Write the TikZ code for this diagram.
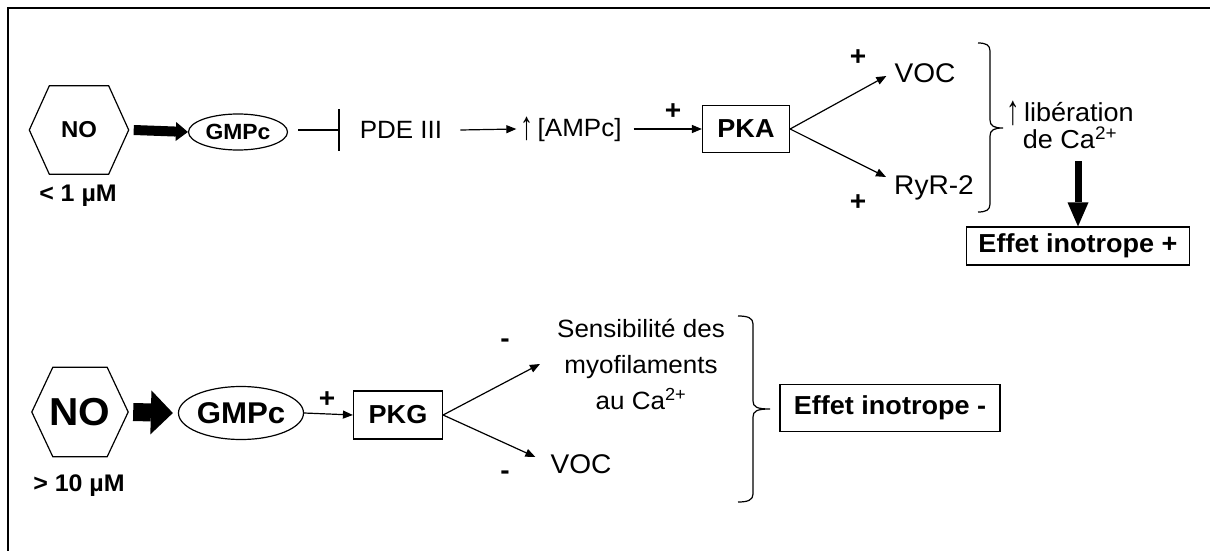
\documentclass[tikz,border=0pt]{standalone}
\usepackage{fontspec}
\setmainfont{Liberation Sans}[FakeStretch=1.04]
\usetikzlibrary{arrows.meta,shapes.geometric}
\newcommand\hexdraw[2]{\draw[line width=1.2pt] (#1.west) -- ([xshift=#2]#1.north west) -- ([xshift=-#2]#1.north east) -- (#1.east) -- ([xshift=-#2]#1.south east) -- ([xshift=#2]#1.south west) -- cycle;}
\newcommand\uparr{\raisebox{-0.12em}{\scalebox{1}[1.6]{↑}}}
\tikzset{
  txt/.style={inner sep=0pt, align=center, font=\fontsize{25}{28}\selectfont},
  txtb/.style={inner sep=0pt, align=center, font=\fontsize{27}{30}\selectfont},
  sign/.style={inner sep=0pt, font=\bfseries\fontsize{27}{30}\selectfont},
  lbl/.style={inner sep=0pt, font=\bfseries\fontsize{24}{28}\selectfont},
  boxn/.style={draw, line width=1.2pt, inner sep=0pt, font=\bfseries\fontsize{26}{30}\selectfont},
  ell/.style={draw, ellipse, line width=1.2pt, inner sep=0pt},
  hexn/.style={inner sep=0pt, font=\bfseries},
  arr/.style={line width=1.2pt, -{Triangle[length=10pt,width=8pt]}},
  inhib/.style={line width=1.2pt, -{Bar[width=42pt,line width=1.2pt]}},
  fatS/.style={line width=10pt, -{Triangle[length=12pt,width=19pt,line width=0pt]}},
  fatL/.style={line width=18pt, -{Triangle[length=22pt,width=44pt,line width=0pt]}},
  fatV/.style={line width=7pt, -{Triangle[length=24pt,width=21pt,line width=0pt]}},
  brace/.style={line width=1.2pt}
}
\begin{document}
\begin{tikzpicture}[x=1pt,y=-1pt]
\useasboundingbox (0,0) rectangle (1210,551);
\draw[line width=1.5pt] (8,551) -- (8,8) -- (1210,8);

% ---------- top row ----------
\node[hexn, minimum width=99pt, minimum height=88pt, font=\bfseries\fontsize{23}{26}\selectfont] (no1) at (79,130) {NO};
\hexdraw{no1}{20pt}
\node[lbl] (c1) at (78,196) {< 1 µM};
\node[ell, minimum width=99pt, minimum height=36pt, font=\bfseries\fontsize{22}{24}\selectfont] (gmp1) at (238,132) {GMPc};
\draw[fatS] ([xshift=5pt]no1.east) -- (gmp1.west);
\node[txt] (pde) at (401,130) {PDE III};
\draw[inhib] ([xshift=10pt]gmp1.east |- pde.center) -- ([xshift=-20pt]pde.west);
\node[txt] (amp) at (571,129) {\uparr\,[AMPc]};
\draw[arr] ([xshift=18pt]pde.east) -- ([xshift=-4pt]amp.west);
\node[boxn, minimum width=87pt, minimum height=47pt] (pka) at (746,129) {PKA};
\draw[arr] ([xshift=12pt]amp.east) -- (pka.west);
\node[sign] (p1) at (673,112) {+};
\node[txtb] (voc1) at (925,73) {VOC};
\node[txtb] (ryr) at (934,188) {RyR-2};
\draw[arr] (pka.east) -- ([xshift=-8pt,yshift=-3pt]voc1.west);
\draw[arr] (pka.east) -- ([xshift=-8pt,yshift=11pt]ryr.west);
\node[sign] (p2) at (858,58) {+};
\node[sign] (p3) at (858,203) {+};
\draw[brace] (978,43) .. controls (986,43) and (990,45) .. (990,51) -- (990,120) .. controls (990,126) and (994,128) .. (1003,128) .. controls (994,128) and (990,130) .. (990,136) -- (990,204) .. controls (990,210) and (986,212) .. (978,212);
\node[txtb, font=\fontsize{26}{27.5}\selectfont] (lib) at (1070,125) {\uparr\,libération\\de Ca\textsuperscript{2+}};
\node[boxn, minimum width=223pt, minimum height=38pt] (eff1) at (1078,246) {Effet inotrope +};
\draw[fatV, shorten <=12pt] (eff1.north |- lib.south) -- (eff1.north);

% ---------- bottom row ----------
\node[hexn, minimum width=96pt, minimum height=89pt, font=\bfseries\fontsize{39}{42}\selectfont] (no2) at (80,412) {NO};
\hexdraw{no2}{21pt}
\node[lbl] (c2) at (79,486) {> 10 µM};
\node[ell, minimum width=97pt, minimum height=53pt, font=\bfseries\fontsize{30}{32}\selectfont] (gmp2) at (241,413) {GMPc};
\draw[fatL] ([xshift=5pt]no2.east) -- ([xshift=-5pt]gmp2.west);
\node[boxn, minimum width=89pt, minimum height=48pt] (pkg) at (398,415) {PKG};
\draw[arr] (gmp2.east) -- (pkg.west);
\node[sign] (p4) at (327,400) {+};
\node[txt, font=\fontsize{25}{36}\selectfont] (sens) at (641,364) {Sensibilité des\\myofilaments\\au Ca\textsuperscript{2+}};
\node[txtb] (voc2) at (581,464) {VOC};
\draw[arr] (pkg.east) -- ([xshift=-17pt]sens.west);
\draw[arr] (pkg.east) -- ([xshift=-15pt,yshift=7pt]voc2.west);
\node[sign] (m1) at (505,343) {-};
\node[sign] (m2) at (505,475) {-};
\draw[brace] (738,316) .. controls (748,316) and (753,318) .. (753,324) -- (753,401) .. controls (753,407) and (757,409) .. (770,409) .. controls (757,409) and (753,411) .. (753,417) -- (753,494) .. controls (753,500) and (748,502) .. (738,502);
\node[boxn, minimum width=220pt, minimum height=47pt] (eff2) at (890,408) {Effet inotrope -};
\end{tikzpicture}
\end{document}
